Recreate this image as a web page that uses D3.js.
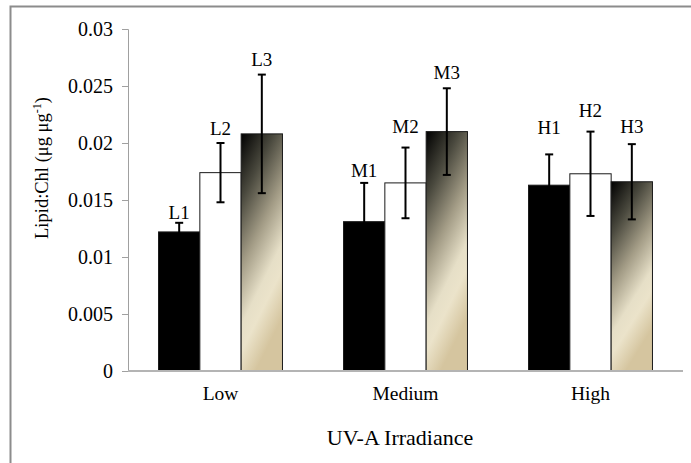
<!DOCTYPE html>
<html>
<head>
<meta charset="utf-8">
<script src="https://cdn.jsdelivr.net/npm/d3@7"></script>
<style>
  html, body { margin: 0; padding: 0; background: #fff; }
  svg { display: block; }
  text { font-family: "Liberation Serif", "Times New Roman", serif; fill: #000; }
</style>
</head>
<body>
<svg id="chart" width="691" height="463"></svg>
<script>
// UV-A irradiance groups and the three treatments drawn in each
const categories = ["Low", "Medium", "High"];
const treatments = ["1", "2", "3"];
const prefixes = ["L", "M", "H"];

// Lipid:Chl means (µg µg-1) per group, treatment 1..3
const lowValues    = [0.0122, 0.0174, 0.0208];
const mediumValues = [0.0131, 0.0165, 0.0210];
const highValues   = [0.0163, 0.0173, 0.0166];

// Error-bar half-widths (same order)
const lowErrors    = [0.0008, 0.0026, 0.0052];
const mediumErrors = [0.0034, 0.0031, 0.0038];
const highErrors   = [0.0027, 0.0037, 0.0033];

const yTicks = [0, 0.005, 0.01, 0.015, 0.02, 0.025, 0.03];
const yTickLabels = ["0", "0.005", "0.01", "0.015", "0.02", "0.025", "0.03"];

// gap (px) between error-bar cap and the treatment label above it
const labelGaps = [[4, 8, 9], [6, 15, 9], [20, 15, 11]];

const valueRows = [lowValues, mediumValues, highValues];
const errorRows = [lowErrors, mediumErrors, highErrors];

const svg = d3.select("#chart");

// outer chart-area frame
svg.append("rect")
  .attr("x", 10.5).attr("y", 6.5)
  .attr("width", 700).attr("height", 480)
  .attr("fill", "none").attr("stroke", "#8c8c8c").attr("stroke-width", 2);

const plot = { left: 128, right: 683, top: 29, bottom: 371 };

const y = d3.scaleLinear().domain([0, 0.03]).range([plot.bottom, plot.top]);
const x0 = d3.scaleBand().domain(categories)
  .range([plot.left, plot.right])
  .paddingInner(0.33).paddingOuter(0.165);
const x1 = d3.scaleBand().domain(treatments).range([0, x0.bandwidth()]);

// fill for the third treatment: dark corner fading to cream and tan
const defs = svg.append("defs");
const grad = defs.append("linearGradient")
  .attr("id", "fill3")
  .attr("x1", 0).attr("y1", 0).attr("x2", 0.35).attr("y2", 1);
[[0, "#000000"], [0.25, "#4a493e"], [0.5, "#a39c86"], [0.72, "#e6dfc7"],
 [0.82, "#ebe3ca"], [1, "#d5c59f"]].forEach(([o, c]) =>
  grad.append("stop").attr("offset", o).attr("stop-color", c));

const fills = ["#000000", "#ffffff", "url(#fill3)"];

// y axis
const yAxis = d3.axisLeft(y)
  .tickValues(yTicks)
  .tickFormat((d, i) => yTickLabels[i])
  .tickSize(6).tickPadding(9);
const gy = svg.append("g")
  .attr("transform", `translate(${plot.left},0)`)
  .call(yAxis);
gy.select(".domain").attr("stroke", "#a0a0a0").attr("stroke-width", 1);
gy.selectAll(".tick line").attr("stroke", "#a0a0a0");
gy.selectAll(".tick text")
  .style("font-family", '"Liberation Serif", serif')
  .style("font-size", "20px").attr("fill", "#000");

// bars
const groups = svg.selectAll("g.grp")
  .data(categories)
  .join("g").attr("class", "grp")
  .attr("transform", d => `translate(${x0(d)},0)`);

groups.each(function (cat, ci) {
  const g = d3.select(this);
  treatments.forEach((t, ti) => {
    const v = valueRows[ci][ti];
    const bx = x1(t);
    const bw = x1.bandwidth();
    g.append("rect")
      .attr("x", bx).attr("y", y(v))
      .attr("width", bw).attr("height", y(0) - y(v))
      .attr("fill", fills[ti])
      .attr("stroke", "#1a1a1a").attr("stroke-width", 1);
  });
});

// x axis baseline
svg.append("line")
  .attr("x1", plot.left).attr("x2", plot.right)
  .attr("y1", y(0)).attr("y2", y(0))
  .attr("stroke", "#b4b4b4").attr("stroke-width", 2);

// error bars and treatment labels
groups.each(function (cat, ci) {
  const g = d3.select(this);
  treatments.forEach((t, ti) => {
    const v = valueRows[ci][ti];
    const e = errorRows[ci][ti];
    const cx = x1(t) + x1.bandwidth() / 2;
    const eb = g.append("g").attr("stroke", "#000").attr("stroke-width", 2);
    eb.append("line").attr("x1", cx).attr("x2", cx)
      .attr("y1", y(v + e)).attr("y2", y(v - e));
    [v + e, v - e].forEach(k => eb.append("line")
      .attr("x1", cx - 4).attr("x2", cx + 4)
      .attr("y1", y(k)).attr("y2", y(k)));
    g.append("text")
      .attr("x", cx).attr("y", y(v + e) - labelGaps[ci][ti])
      .attr("text-anchor", "middle")
      .style("font-size", "19px")
      .text(prefixes[ci] + t);
  });
});

// category labels
svg.selectAll("text.cat")
  .data(categories)
  .join("text").attr("class", "cat")
  .attr("x", d => x0(d) + x0.bandwidth() / 2)
  .attr("y", 400)
  .attr("text-anchor", "middle")
  .style("font-size", "19.5px")
  .text(d => d);

// axis titles
svg.append("text")
  .attr("x", 400).attr("y", 445)
  .attr("text-anchor", "middle")
  .style("font-size", "22px")
  .text("UV-A Irradiance");

const yt = svg.append("text")
  .attr("transform", "translate(48,168) rotate(-90)")
  .attr("text-anchor", "middle")
  .style("font-size", "18.5px");
yt.append("tspan").text("Lipid:Chl (μg μg");
yt.append("tspan").attr("dy", -7).style("font-size", "12px").text("-1");
yt.append("tspan").attr("dy", 7).text(")");
</script>
</body>
</html>
